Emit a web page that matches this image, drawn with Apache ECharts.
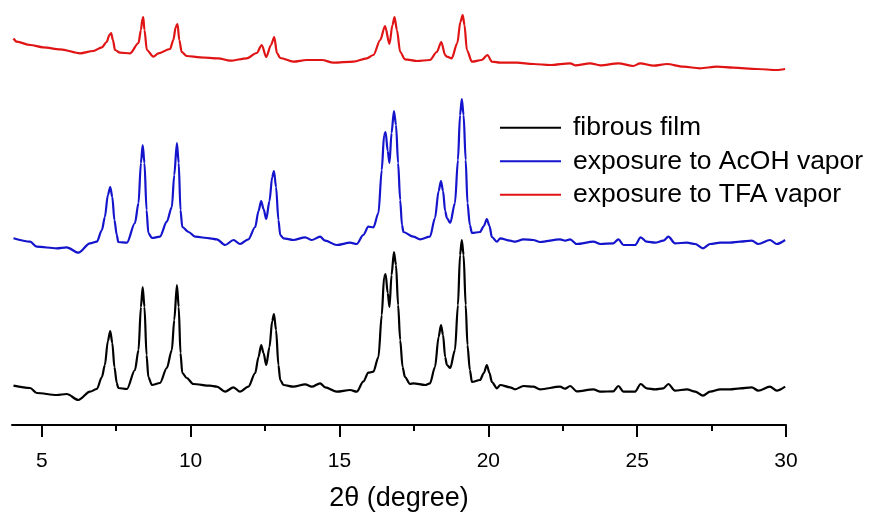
<!DOCTYPE html>
<html>
<head>
<meta charset="utf-8">
<script src="https://cdn.jsdelivr.net/npm/echarts@6/dist/echarts.min.js"></script>
<style>html,body{margin:0;padding:0;background:#fff}#c{width:891px;height:517px}</style>
</head>
<body>
<div id="c"></div>
<script>
// 2θ (degree) and intensity (a.u., stacked traces with offsets as plotted)
const seriesNames = ['fibrous film', 'exposure to AcOH vapor', 'exposure to TFA vapor'];
const xTicks = [5, 10, 15, 20, 25, 30];
const xMinorTicks = [7.5, 12.5, 17.5, 22.5, 27.5];

const fibrous = [
[4.05,39.3],[4.61,37],[4.83,32],[5.50,30],[5.84,31],[6.23,25],[6.62,33.3],[6.85,36],
[7.02,48],[7.12,60],[7.22,84],[7.30,94],[7.37,82],[7.44,58],[7.52,42],[7.57,37],
[7.86,36],[8.13,55],[8.25,75],[8.33,118],[8.39,138],[8.45,118],[8.52,70],[8.58,48],[8.70,40],
[8.97,42],[9.20,57],[9.37,75],[9.45,105],[9.54,140],[9.60,118],[9.66,72],[9.72,52],[9.87,47],
[10.09,41],[10.65,39.3],[10.88,38.3],[11.16,33.3],[11.44,37.7],[11.66,33.3],[11.94,38.3],
[12.17,52],[12.28,68],[12.37,80],[12.45,72],[12.54,60],[12.65,78],[12.74,104],[12.80,111],[12.87,95],[12.95,60],[13.01,45],
[13.12,40],[13.45,38.3],[13.85,40.7],[14.07,38.3],[14.35,41.7],[14.52,37.7],[14.91,33.3],[15.36,35],[15.58,33.3],
[15.80,43.3],[15.97,52.3],[16.14,53.3],[16.31,68],[16.42,110],[16.50,148],[16.55,151],[16.62,132],[16.68,118],
[16.75,150],[16.83,173],[16.90,160],[16.97,120],[17.04,85],[17.12,58],[17.20,48],[17.37,41],[17.48,41.7],
[17.88,40],[18.04,41.7],[18.21,58],[18.33,88],[18.41,100],[18.48,90],[18.55,68],[18.61,60],[18.72,57],
[18.88,75],[18.98,120],[19.05,170],[19.11,185],[19.17,170],[19.24,120],[19.30,80],[19.38,55],[19.45,43],
[19.72,45],[19.85,52],[19.95,60],[20.04,52],[20.12,43],[20.29,36.7],[20.40,40],[20.73,37.7],[20.90,35.7],
[21.18,39],[21.51,38.3],[21.74,35.7],[22.41,38.3],[22.58,36.3],[22.75,39],[22.97,33.7],[23.53,35.7],[23.76,33.3],
[24.20,33.7],[24.37,39],[24.54,33.3],[24.93,33.3],[25.12,41],[25.32,36.7],[25.60,35.7],[25.88,36.7],[26.05,41],
[26.27,34.3],[26.67,35.7],[26.95,33.3],[27.21,29.3],[27.45,33.3],[27.79,35.7],[28.12,35.7],[28.46,36.7],
[28.85,37.7],[29.07,34.3],[29.46,38.3],[29.69,34.3],[29.97,38.3]
];

const acoh = [
[4.05,186.7],[4.61,183.3],[4.83,178.3],[5.50,176.7],[5.84,177.7],[6.23,172.3],[6.62,181.7],[6.85,183.3],
[7.02,195],[7.12,208],[7.22,230],[7.30,238],[7.37,228],[7.44,205],[7.52,190],[7.57,183],
[7.86,182.3],[8.13,202],[8.25,222],[8.33,262],[8.39,280],[8.45,262],[8.52,215],[8.58,192],[8.70,187],
[8.97,188.3],[9.20,203.3],[9.37,218],[9.45,250],[9.54,282],[9.60,262],[9.66,215],[9.72,198],[9.93,193],
[10.15,188.3],[10.65,186.7],[10.88,185.7],[11.16,180],[11.44,185],[11.66,181],[11.94,185.7],
[12.17,198],[12.28,214],[12.37,224],[12.45,216],[12.54,206],[12.65,224],[12.74,248],[12.80,254],[12.87,238],[12.95,205],[13.01,190],
[13.12,186.7],[13.45,185],[13.85,187.7],[14.07,185],[14.35,188.3],[14.52,184.3],[14.91,180],[15.36,182.3],[15.58,181],
[15.80,190],[15.97,198.3],[16.14,197.7],[16.31,212],[16.42,255],[16.50,290],[16.55,293],[16.62,274],[16.68,262],
[16.75,292],[16.83,314],[16.90,300],[16.97,262],[17.04,225],[17.10,200],[17.15,193],[17.48,188.3],[17.71,185.7],
[18.04,188.3],[18.21,207],[18.33,234],[18.41,244],[18.48,234],[18.55,214],[18.61,207],[18.72,202],
[18.88,222],[18.98,265],[19.05,310],[19.11,326],[19.17,310],[19.24,265],[19.30,222],[19.38,200],[19.45,192],
[19.72,193],[19.85,199],[19.95,206],[20.04,199],[20.12,188],[20.29,183.3],[20.40,186.7],[20.73,184.3],[20.90,183.3],
[21.18,185.7],[21.51,185],[21.74,183],[22.41,185.7],[22.58,184.3],[22.75,185.7],[22.97,181],[23.53,183.3],[23.76,181],
[24.20,181.7],[24.37,185.7],[24.54,180],[24.93,180],[25.12,187.7],[25.32,183.3],[25.60,182.3],[25.88,184.3],[26.05,188.3],
[26.27,181.7],[26.67,182.3],[26.95,181],[27.21,176.7],[27.45,181],[27.79,182.3],[28.12,182.3],[28.46,183.3],
[28.85,184.3],[29.07,181],[29.46,185],[29.69,181],[29.97,185]
];

const tfa = [
[4.05,386.5],[4.16,383.3],[4.61,380],[5.05,377.7],[5.62,375.7],[6.29,371.7],[6.73,374],[7.02,377.7],
[7.18,383],[7.27,390],[7.33,392],[7.39,385],[7.46,375],[7.63,372.3],[7.97,371.7],
[8.25,382],[8.33,395],[8.38,406],[8.41,408],[8.45,395],[8.53,375],[8.75,368.3],[8.92,371.7],
[9.31,376],[9.42,385],[9.50,398],[9.56,401],[9.62,385],[9.70,373],[9.87,369],[10.32,367.7],
[10.93,366.7],[11.33,364.3],[11.89,366.7],[12.22,372],[12.39,380],[12.54,368],[12.70,380],[12.81,388],[12.90,372],[13.01,367],
[13.45,363.3],[13.90,365],[14.41,365],[14.80,362.3],[15.47,363.3],[15.92,366.7],[16.14,370],[16.37,385],
[16.53,399],[16.68,381],[16.78,400],[16.85,408],[16.93,395],[17.04,373],[17.20,365.7],[17.60,364],[18.04,365],
[18.27,373],[18.42,383],[18.55,370],[18.61,368.3],[18.77,366.7],[18.96,382],[19.06,403],[19.14,410],[19.20,400],[19.28,375],
[19.45,363.3],[19.78,365],[19.97,370],[20.12,363.3],[20.40,362.3],[20.96,362.3],[21.51,361],[22.08,360],
[22.75,361.7],[22.92,359.7],[23.42,361.7],[23.76,359.7],[24.37,361.7],[24.87,359],[25.10,361.7],[25.55,359.3],
[26.00,361],[26.55,358.3],[27.11,356.7],[27.68,358.3],[28.23,357.3],[29.02,356],[29.69,355],[29.97,356]
];

const colors = ['#000000', '#1414cc', '#e01414'];
const FONT = '"Liberation Sans", Arial, sans-serif';

const chart = echarts.init(document.getElementById('c'), null, {renderer: 'canvas'});
const mkSeries = (name, data, color) => ({
  name, type: 'line', data, symbol: 'none', showSymbol: false,
  smooth: 0.3, smoothMonotone: 'x',
  lineStyle: {color, width: 2.2}, itemStyle: {color}, animation: false, z: 3
});
chart.setOption({
  animation: false,
  backgroundColor: '#ffffff',
  grid: {left: 12, right: 105, top: 0, bottom: 92, containLabel: false},
  legend: {
    orient: 'vertical', left: 500, top: 111, itemGap: 0, padding: 0,
    itemWidth: 61, itemHeight: 2, icon: 'rect',
    data: seriesNames,
    textStyle: {fontFamily: FONT, fontSize: 26.5, color: '#000', lineHeight: 33.5, padding: [0, 0, 0, 7]}
  },
  xAxis: [{
    type: 'value', min: 4, max: 30,
    axisLine: {show: true, lineStyle: {color: '#000', width: 2}},
    axisTick: {show: true, inside: false, length: 12, lineStyle: {color: '#000', width: 2}, customValues: xTicks},
    axisLabel: {show: true, margin: 26, fontFamily: FONT, fontSize: 21, color: '#000', customValues: xTicks},
    splitLine: {show: false},
    name: '2θ (degree)', nameLocation: 'middle', nameGap: 60,
    nameTextStyle: {fontFamily: FONT, fontSize: 27, color: '#000'}
  }, {
    type: 'value', min: 4, max: 30, position: 'bottom',
    axisLine: {show: false},
    axisTick: {show: true, inside: false, length: 6, lineStyle: {color: '#000', width: 2}, customValues: xMinorTicks},
    axisLabel: {show: false},
    splitLine: {show: false}
  }],
  yAxis: {type: 'value', min: 0, max: 425, show: false, splitLine: {show: false}},
  series: [
    mkSeries(seriesNames[0], fibrous, colors[0]),
    mkSeries(seriesNames[1], acoh, colors[1]),
    mkSeries(seriesNames[2], tfa, colors[2])
  ]
});
</script>
</body>
</html>
